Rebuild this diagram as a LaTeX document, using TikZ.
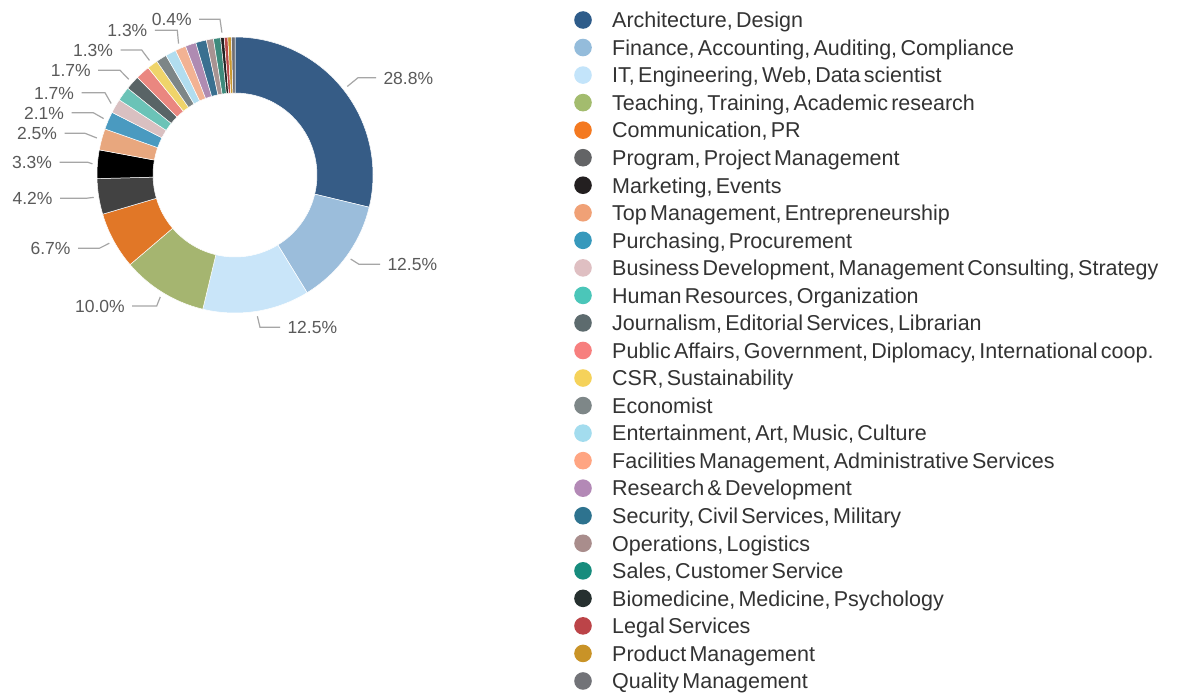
\documentclass[tikz,border=0pt]{standalone}
\usepackage{fontspec}
\newfontfamily\labfont{Liberation Sans}
\newfontfamily\legfont{Liberation Sans}[WordSpace=0.55]
\usetikzlibrary{calc}
% pie colours
\definecolor{p1}{HTML}{365C86}\definecolor{p2}{HTML}{9BBDDB}\definecolor{p3}{HTML}{C9E5F9}
\definecolor{p4}{HTML}{A5B570}\definecolor{p5}{HTML}{E17727}\definecolor{p6}{HTML}{424242}
\definecolor{p7}{HTML}{000000}\definecolor{p8}{HTML}{E8A77E}\definecolor{p9}{HTML}{4A9AC0}
\definecolor{p10}{HTML}{D9C0C1}\definecolor{p11}{HTML}{6BC3B7}\definecolor{p12}{HTML}{596466}
\definecolor{p13}{HTML}{EA8780}\definecolor{p14}{HTML}{EFD46A}\definecolor{p15}{HTML}{7D8687}
\definecolor{p16}{HTML}{B1DDEF}\definecolor{p17}{HTML}{F2B293}\definecolor{p18}{HTML}{AF8BB2}
\definecolor{p19}{HTML}{3A7090}\definecolor{p20}{HTML}{A89392}\definecolor{p21}{HTML}{3E8A7C}
\definecolor{p22}{HTML}{222222}\definecolor{p23}{HTML}{B84A4A}\definecolor{p24}{HTML}{C9982E}
\definecolor{p25}{HTML}{6F6F75}
% legend dot colours
\definecolor{d1}{HTML}{2E5C8A}\definecolor{d2}{HTML}{94BCDB}\definecolor{d3}{HTML}{C3E4FA}
\definecolor{d4}{HTML}{A3BC6E}\definecolor{d5}{HTML}{F47920}\definecolor{d6}{HTML}{636466}
\definecolor{d7}{HTML}{231F20}\definecolor{d8}{HTML}{F0A176}\definecolor{d9}{HTML}{3799BC}
\definecolor{d10}{HTML}{DFBFC2}\definecolor{d11}{HTML}{4BC6B9}\definecolor{d12}{HTML}{5D6B6E}
\definecolor{d13}{HTML}{F77F7E}\definecolor{d14}{HTML}{F5D25A}\definecolor{d15}{HTML}{7E8788}
\definecolor{d16}{HTML}{A3DCEE}\definecolor{d17}{HTML}{FFA582}\definecolor{d18}{HTML}{B389B6}
\definecolor{d19}{HTML}{2E738F}\definecolor{d20}{HTML}{A98D8C}\definecolor{d21}{HTML}{178C7D}
\definecolor{d22}{HTML}{26302F}\definecolor{d23}{HTML}{BC4448}\definecolor{d24}{HTML}{C99327}
\definecolor{d25}{HTML}{727378}
\definecolor{labgrey}{HTML}{5A5A5A}
\definecolor{leadgrey}{HTML}{A6A6A6}
\definecolor{legtext}{HTML}{333333}
\newcommand{\donutslice}[3]{%
  \fill[#3, draw=white, line width=0.5pt] ([shift={(C)}]#1:138)
    arc[start angle=#1, end angle=#2, radius=138]
    -- ([shift={(C)}]#2:82)
    arc[start angle=#2, end angle=#1, radius=82] -- cycle;}
\begin{document}
\begin{tikzpicture}[x=1pt,y=1pt,
  lab/.style={font=\labfont\fontsize{17.5}{20}\selectfont, text=labgrey, inner sep=0pt, outer xsep=7.5pt},
  leader/.style={draw=leadgrey, line width=1.2pt},
  legdot/.style={circle, inner sep=0pt, minimum size=17.6pt},
  legtxt/.style={font=\legfont\fontsize{21.5}{24}\selectfont, text=legtext, inner sep=0pt, anchor=base west}]
\useasboundingbox[fill=white] (0,0) rectangle (1190,-696);
\coordinate (C) at (235,-175);
% donut slices (clockwise from top)
\donutslice{90}{-13.5}{p1}
\donutslice{-13.5}{-58.5}{p2}
\donutslice{-58.5}{-103.5}{p3}
\donutslice{-103.5}{-139.5}{p4}
\donutslice{-139.5}{-163.5}{p5}
\donutslice{-163.5}{-178.5}{p6}
\donutslice{-178.5}{-190.5}{p7}
\donutslice{-190.5}{-199.5}{p8}
\donutslice{-199.5}{-207}{p9}
\donutslice{-207}{-213}{p10}
\donutslice{-213}{-219}{p11}
\donutslice{-219}{-225}{p12}
\donutslice{-225}{-231}{p13}
\donutslice{-231}{-235.5}{p14}
\donutslice{-235.5}{-240}{p15}
\donutslice{-240}{-244.5}{p16}
\donutslice{-244.5}{-249}{p17}
\donutslice{-249}{-253.5}{p18}
\donutslice{-253.5}{-258}{p19}
\donutslice{-258}{-261}{p20}
\donutslice{-261}{-264}{p21}
\donutslice{-264}{-265.5}{p22}
\donutslice{-265.5}{-267}{p23}
\donutslice{-267}{-268.5}{p24}
\donutslice{-268.5}{-270}{p25}
% leader start points
\coordinate (s1) at ([shift={(C)}]38.25:143);
\coordinate (s2) at ([shift={(C)}]-36:143);
\coordinate (s3) at ([shift={(C)}]-81:143);
\coordinate (s4) at ([shift={(C)}]-121.5:143);
\coordinate (s5) at ([shift={(C)}]-151.5:143);
\coordinate (s6) at ([shift={(C)}]-171:143);
\coordinate (s7) at ([shift={(C)}]-184.5:143);
\coordinate (s8) at ([shift={(C)}]-195:143);
\coordinate (s9) at ([shift={(C)}]-203.25:143);
\coordinate (s10) at ([shift={(C)}]-210:143);
\coordinate (s12) at ([shift={(C)}]-222:143);
\coordinate (s14) at ([shift={(C)}]-233.25:143);
\coordinate (s17) at ([shift={(C)}]-246.75:143);
\coordinate (s22) at ([shift={(C)}]-264.75:143);
% bend points
\coordinate (b1) at (358,-77.7);
\coordinate (b2) at (359,-264.3);
\coordinate (b3) at (260,-327.3);
\coordinate (b4) at (156.7,-306);
\coordinate (b5) at (99.3,-248.3);
\coordinate (b6) at (86,-198.3);
\coordinate (b7) at (88,-162.3);
\coordinate (b8) at (85,-133.3);
\coordinate (b9) at (93.3,-112.7);
\coordinate (b10) at (105,-92.7);
\coordinate (b12) at (120,-70.3);
\coordinate (b14) at (141.7,-50);
\coordinate (b17) at (177.3,-30.3);
\coordinate (b22) at (220,-19.3);
% labels
\node[lab, anchor=base west] (l1) at (376,-84) {28.8\%};
\node[lab, anchor=base west] (l2) at (380,-270.6) {12.5\%};
\node[lab, anchor=base west] (l3) at (280,-333.6) {12.5\%};
\node[lab, anchor=base east] (l4) at (132.2,-312.3) {10.0\%};
\node[lab, anchor=base east] (l5) at (78,-254.6) {6.7\%};
\node[lab, anchor=base east] (l6) at (60,-204.6) {4.2\%};
\node[lab, anchor=base east] (l7) at (59.5,-168.6) {3.3\%};
\node[lab, anchor=base east] (l8) at (64.5,-139.6) {2.5\%};
\node[lab, anchor=base east] (l9) at (71.5,-119) {2.1\%};
\node[lab, anchor=base east] (l10) at (81.5,-99) {1.7\%};
\node[lab, anchor=base east] (l12) at (98.2,-76.6) {1.7\%};
\node[lab, anchor=base east] (l14) at (120.5,-56.3) {1.3\%};
\node[lab, anchor=base east] (l17) at (154.8,-36.6) {1.3\%};
\node[lab, anchor=base east] (l22) at (199.2,-25.6) {0.4\%};
\draw[leader] (s1) -- (b1) -- (b1 -| l1.west);
\draw[leader] (s2) -- (b2) -- (b2 -| l2.west);
\draw[leader] (s3) -- (b3) -- (b3 -| l3.west);
\foreach \k in {4,5,6,7,8,9,10,12,14,17,22}
  \draw[leader] (s\k) -- (b\k) -- (b\k -| l\k.east);
% legend
\foreach \t/\c [count=\i from 0] in {
  {Architecture, Design}/d1,
  {Finance, Accounting, Auditing, Compliance}/d2,
  {IT, Engineering, Web, Data scientist}/d3,
  {Teaching, Training, Academic research}/d4,
  {Communication, PR}/d5,
  {Program, Project Management}/d6,
  {Marketing, Events}/d7,
  {Top Management, Entrepreneurship}/d8,
  {Purchasing, Procurement}/d9,
  {Business Development, Management Consulting, Strategy}/d10,
  {Human Resources, Organization}/d11,
  {Journalism, Editorial Services, Librarian}/d12,
  {Public Affairs, Government, Diplomacy, International coop.}/d13,
  {CSR, Sustainability}/d14,
  {Economist}/d15,
  {Entertainment, Art, Music, Culture}/d16,
  {Facilities Management, Administrative Services}/d17,
  {Research \& Development}/d18,
  {Security, Civil Services, Military}/d19,
  {Operations, Logistics}/d20,
  {Sales, Customer Service}/d21,
  {Biomedicine, Medicine, Psychology}/d22,
  {Legal Services}/d23,
  {Product Management}/d24,
  {Quality Management}/d25}
{
  \pgfmathsetmacro{\yc}{-(20+27.54*\i)}
  \node[legdot, fill=\c] (dot\i) at (583,\yc) {};
  \node[legtxt] (leg\i) at (612,\yc-7.8) {\t};
}
\end{tikzpicture}
\end{document}
